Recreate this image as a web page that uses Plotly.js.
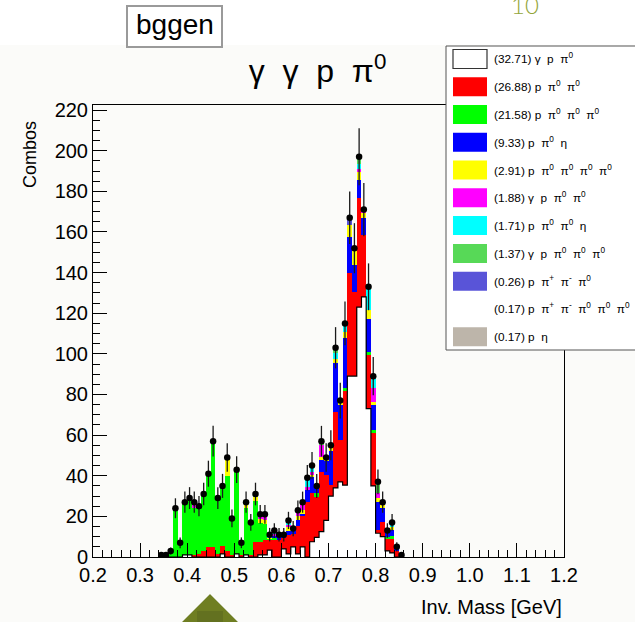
<!DOCTYPE html>
<html><head><meta charset="utf-8">
<script src="https://cdn.plot.ly/plotly-3.0.1.min.js"></script>
<style>html,body{margin:0;padding:0;background:#fff}</style>
</head><body><div id="chart" style="width:635px;height:622px"></div>
<script>
// ---- data (bin centers in GeV, width 0.01) ----
const binCenters = [0.345,0.355,0.365,0.375,0.385,0.395,0.405,0.415,0.425,0.435,0.445,0.455,0.465,0.475,0.485,0.495,0.505,0.515,0.525,0.535,0.545,0.555,0.565,0.575,0.585,0.595,0.605,0.615,0.625,0.635,0.645,0.655,0.665,0.675,0.685,0.695,0.705,0.715,0.725,0.735,0.745,0.755,0.765,0.775,0.785,0.795,0.805,0.815,0.825,0.835,0.845,0.855];
const dataCounts = [1,1,3,24,7,27,29,27,25,31,41,57,29,35,49,19,43,7,27,17,31,21,21,11,13,11,11,18,14,23,27,39,45,35,57,49,55,103,77,115,167,152,197,171,133,89,37,27,13,17,5,1];
// stacked components
const gamma_p_pi0      = [0,0,0,0,0,1,1,0,0,0,0,0,0,1.5,0,0,1.5,0,1,0,0,1,1,3.4,0,0,4,1.5,5,1.5,5,0,7.5,9.7,12.5,18,30,34,37,35.4,89,89,123,128,73,35,11.7,10,3,2,0,0];
const p_pi0_pi0        = [0,0,0,0,0,0,0,1,1.5,3,5,5,1.5,4,3,1,0,1,0,1,7.5,6.5,7.4,5,8.4,8.4,5.5,9.3,6.5,14,15,27,24,20,29.5,22.4,5.4,37.5,20.6,46.4,50.6,41.6,53.5,30.5,26.4,26,1.6,7,6,7,3,0];
const p_3pi0           = [1,1,3,24,7,26,27,23,23.5,28,36,52,27.5,29.5,37,18,41.5,6,23,15,20,9,8,0.6,1,0,0,0,0,0,0,0,0,1.6,0,0,0,0,0,1.6,0,0,0,0,1.6,1.6,0,0,1,1.5,0,0];
const p_pi0_eta        = [0,0,0,0,0,0,0,0,0,0,0,0,0,0,0,0,0,0,0,0,0,0,0,0,1,2,1,2,1.5,2.5,1,6,8,3.7,5.7,7,17,24,17.4,24.5,17.7,13,9,8.4,16.4,12.3,14,7,2,3,1,1];
const p_4pi0           = [0,0,0,0,0,0,0,0,0,0,0,0,0,0,8,0,0,0,2,1,2,2,2,0.5,0,0,0,2,0,2,2,0,1,0,1.6,1.6,1.6,2,1,3,6,8.4,4,2.5,4,1.6,1.6,1.5,0,1.5,0,0];
const gamma_p_2pi0     = [0,0,0,0,0,0,0,3,0,0,0,0,0,0,0,0,0,0,0,0,0,1.5,1.5,0,1,0.6,0.5,1.2,1,1.5,3,1.5,1.5,0,5.7,0,0,0,0,0,0,0,1.6,1.6,0,6.5,2.5,1.5,0,0,1,0];
const p_2pi0_eta       = [0,0,0,0,0,0,0,0,0,0,0,0,0,0,0,0,0,0,0,0,0,1,1.1,1.5,1.6,0,0,2,0,1.5,1,4.5,3,0,0,0,1,3,1,4.1,0,0,2.5,0,11.6,6,0,0,1,2,0,0];
const gamma_p_3pi0     = [0,0,0,0,0,0,1,0,0,0,0,0,0,0,1,0,0,0,1,0,1.5,0,0,0,0,0,0,0,0,0,0,0,0,0,2,0,0,2.5,0,0,0,0,3.4,0,0,0,5.6,0,0,0,0,0];
const p_pip_pim_pi0    = [0,0,0,0,0,0,0,0,0,0,0,0,0,0,0,0,0,0,0,0,0,0,0,0,0,0,0,0,0,0,0,0,0,0,0,0,0,0,0,0,3.7,0,0,0,0,0,0,0,0,0,0,0];
const p_pip_pim_3pi0   = [0,0,0,0,0,0,0,0,0,0,0,0,0,0,0,0,0,0,0,0,0,0,0,0,0,0,0,0,0,0,0,0,0,0,0,0,0,0,0,0,0,0,0,0,0,0,0,0,0,0,0,0];
const p_eta            = [0,0,0,0,0,0,0,0,0,0,0,0,0,0,0,0,0,0,0,0,0,0,0,0,0,0,0,0,0,0,0,0,0,0,0,0,0,0,0,0,0,0,0,0,0,0,0,0,0,0,0,0];

const legendLabels = [
  '(32.71) γ  p  π<sup>0</sup>',
  '(26.88) p  π<sup>0</sup>  π<sup>0</sup>',
  '(21.58) p  π<sup>0</sup>  π<sup>0</sup>  π<sup>0</sup>',
  '(9.33) p  π<sup>0</sup>  η',
  '(2.91) p  π<sup>0</sup>  π<sup>0</sup>  π<sup>0</sup>  π<sup>0</sup>',
  '(1.88) γ  p  π<sup>0</sup>  π<sup>0</sup>',
  '(1.71) p  π<sup>0</sup>  π<sup>0</sup>  η',
  '(1.37) γ  p  π<sup>0</sup>  π<sup>0</sup>  π<sup>0</sup>',
  '(0.26) p  π<sup>+</sup>  π<sup>-</sup>  π<sup>0</sup>',
  '(0.17) p  π<sup>+</sup>  π<sup>-</sup>  π<sup>0</sup>  π<sup>0</sup>  π<sup>0</sup>',
  '(0.17) p  η'
];
const seriesColors = ['#ffffff','#ff0000','#00ff00','#0000ff','#ffff00','#ff00ff','#00ffff','#57d957','#5954d8','#ffffff','#bdb5aa'];
const xTickVals = [0.2,0.3,0.4,0.5,0.6,0.7,0.8,0.9,1.0,1.1,1.2];
const xTickText = ['0.2','0.3','0.4','0.5','0.6','0.7','0.8','0.9','1.0','1.1','1.2'];
const yTickVals = [0,20,40,60,80,100,120,140,160,180,200,220];
const yTickText = ['0','20','40','60','80','100','120','140','160','180','200','220'];

const components = [gamma_p_pi0,p_pi0_pi0,p_3pi0,p_pi0_eta,p_4pi0,gamma_p_2pi0,p_2pi0_eta,gamma_p_3pi0,p_pip_pim_pi0,p_pip_pim_3pi0,p_eta];
const binW = 0.01;

const traces = components.map((vals,k)=>({
  type:'bar', x:binCenters, y:vals, width:binW,
  marker:{color:seriesColors[k], line:{width:0}},
  showlegend:false, hoverinfo:'skip'
}));

// black outline of the bottom (white) histogram
const edgesX = binCenters.map(c=>c-binW/2).concat([binCenters[binCenters.length-1]+binW/2]);
const outlineY = gamma_p_pi0.concat([0]);
traces.push({type:'scatter', mode:'lines', x:edgesX, y:outlineY,
  line:{shape:'hv', color:'#000', width:1.2}, showlegend:false, hoverinfo:'skip'});

// data points with sqrt(N) errors
traces.push({type:'scatter', mode:'markers', x:binCenters, y:dataCounts,
  marker:{color:'#000', size:6.5},
  error_y:{type:'data', array:dataCounts.map(v=>Math.sqrt(v)), color:'#1a1a1a', thickness:1.3, width:0},
  showlegend:false, hoverinfo:'skip'});

// pixel -> paper helpers
const L=93, R=564, T=105, B=557;
const px = v => (v-L)/(R-L);
const py = v => (B-v)/(B-T);

const shapes = [
  {type:'rect', xref:'paper', yref:'paper', x0:px(-5), x1:px(640), y0:py(45), y1:py(625), fillcolor:'#fbfbf9', line:{width:0}, layer:'below'},
  // bggen box
  {type:'rect', xref:'paper', yref:'paper', x0:px(127), x1:px(222), y0:py(47), y1:py(6), fillcolor:'#ffffff', line:{color:'#9a9a9a', width:2}, layer:'above'},
  // legend box
  {type:'rect', xref:'paper', yref:'paper', x0:px(446), x1:px(660), y0:py(350), y1:py(46), fillcolor:'#ffffff', line:{color:'#555', width:1}, layer:'above'},
  // bottom decoration triangle
  {type:'path', xref:'paper', yref:'paper', path:`M ${px(210)} ${py(594)} L ${px(239)} ${py(623)} L ${px(181)} ${py(623)} Z`, fillcolor:'#6f7e22', line:{color:'#b9c29a', width:1}, layer:'above'},
  {type:'rect', xref:'paper', yref:'paper', x0:px(197), x1:px(223), y0:py(623), y1:py(611), fillcolor:'#637120', line:{width:0}, layer:'above'}
];
const annotations = [
  {xref:'paper', yref:'paper', x:px(174.5), y:py(25), text:'bggen', showarrow:false, xanchor:'center', yanchor:'middle', font:{family:'Liberation Sans, Arial', size:28, color:'#000'}},
  {xref:'paper', yref:'paper', x:px(525), y:py(4), text:'10', showarrow:false, xanchor:'center', yanchor:'middle', font:{family:'Lato, Open Sans', size:24, color:'#93a53a', weight:300}},
  {xref:'paper', yref:'paper', x:px(30), y:py(155), text:'Combos', textangle:-90, showarrow:false, xanchor:'center', yanchor:'middle', font:{family:'Liberation Sans, Arial', size:18, color:'#000'}},
  {xref:'paper', yref:'paper', x:px(564), y:py(607), text:'Inv. Mass [GeV]', showarrow:false, xanchor:'right', yanchor:'middle', font:{family:'Liberation Sans, Arial', size:20, color:'#000'}}
];
legendLabels.forEach((lab,i)=>{
  const cy = 59 + i*27.77;
  if (i !== 9) {
    shapes.push({type:'rect', xref:'paper', yref:'paper', x0:px(453), x1:px(487), y0:py(cy+9.5), y1:py(cy-9.5),
      fillcolor:seriesColors[i], line:{color: i===0 ? '#333' : seriesColors[i], width: i===0 ? 1.2 : 0}, layer:'above'});
  }
  annotations.push({xref:'paper', yref:'paper', x:px(492), y:py(cy), text:lab, showarrow:false, xanchor:'left', yanchor:'middle',
    font:{family:'Liberation Sans, Arial', size:11.8, color:'#000'}});
});

const layout = {
  width:635, height:622,
  margin:{l:L, r:635-R, t:T, b:622-B, pad:0},
  paper_bgcolor:'#ffffff', plot_bgcolor:'rgba(0,0,0,0)',
  barmode:'stack', bargap:0,
  title:{text:'γ  γ  p  π<sup>0</sup>', x:0.5, xref:'container', xanchor:'center', y:1-71/622, yref:'container', yanchor:'middle',
    font:{family:'Liberation Sans, Arial', size:32, color:'#000'}},
  xaxis:{range:[0.2,1.2], tickmode:'array', tickvals:xTickVals, ticktext:xTickText, ticks:'inside', ticklen:14, tickwidth:1, tickcolor:'#000',
    minor:{tickmode:'linear', tick0:0.2, dtick:0.02, ticks:'inside', ticklen:7, tickcolor:'#000', showgrid:false},
    showline:true, linecolor:'#000', linewidth:1, mirror:true, showgrid:false, zeroline:false,
    tickfont:{family:'Liberation Sans, Arial', size:20, color:'#000'}},
  yaxis:{range:[0,222.5], tickmode:'array', tickvals:yTickVals, ticktext:yTickText, ticks:'inside', ticklen:14, tickwidth:1, tickcolor:'#000',
    minor:{tickmode:'linear', tick0:0, dtick:5, ticks:'inside', ticklen:7, tickcolor:'#000', showgrid:false},
    showline:true, linecolor:'#000', linewidth:1, mirror:true, showgrid:false, zeroline:false,
    tickfont:{family:'Liberation Sans, Arial', size:20, color:'#000'}},
  shapes:shapes, annotations:annotations, showlegend:false
};
Plotly.newPlot('chart', traces, layout, {staticPlot:true, displayModeBar:false});
</script></body></html>
